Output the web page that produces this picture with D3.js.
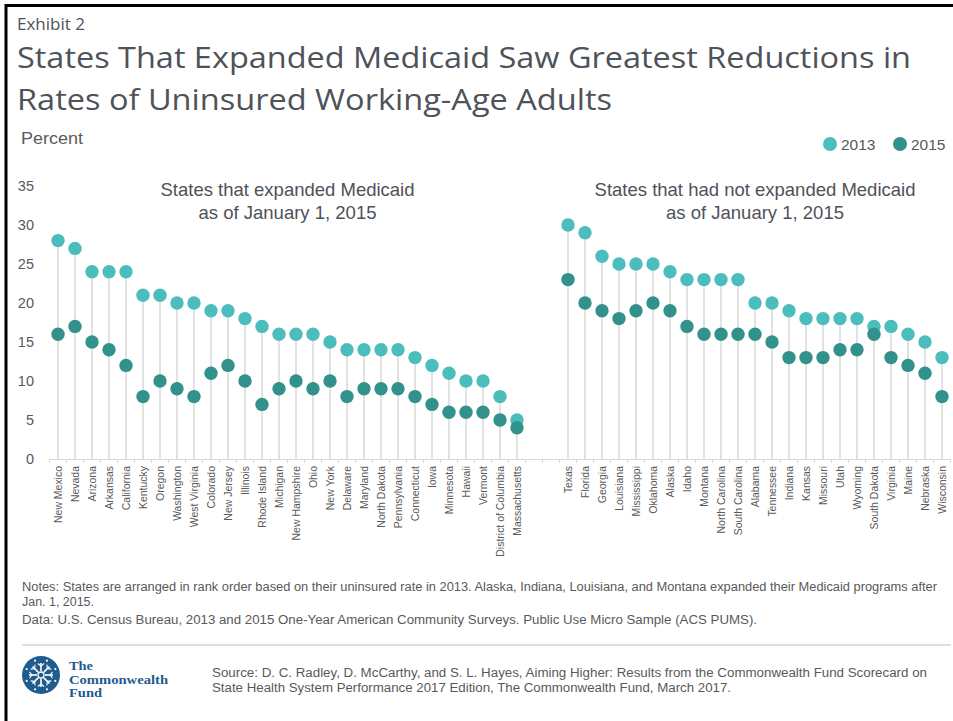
<!DOCTYPE html>
<html>
<head>
<meta charset="utf-8">
<script src="https://cdn.jsdelivr.net/npm/d3@7"></script>
<style>
  body { margin: 0; background: #fff; }
  svg { display: block; }
</style>
</head>
<body>
<div id="chart"></div>
<script>
"use strict";

// states that expanded Medicaid, ranked by 2013 uninsured rate
const expandedStates = ["New Mexico", "Nevada", "Arizona", "Arkansas", "California", "Kentucky", "Oregon",
    "Washington", "West Virginia", "Colorado", "New Jersey", "Illinois", "Rhode Island", "Michigan",
    "New Hampshire", "Ohio", "New York", "Delaware", "Maryland", "North Dakota", "Pennsylvania",
    "Connecticut", "Iowa", "Minnesota", "Hawaii", "Vermont", "District of Columbia", "Massachusetts"];
const expanded2013 = [28, 27, 24, 24, 24, 21, 21, 20, 20, 19, 19, 18, 17, 16, 16, 16, 15, 14, 14, 14, 14, 13, 12, 11, 10, 10, 8, 5];
const expanded2015 = [16, 17, 15, 14, 12, 8, 10, 9, 8, 11, 12, 10, 7, 9, 10, 9, 10, 8, 9, 9, 9, 8, 7, 6, 6, 6, 5, 4];

// states that had not expanded
const notExpandedStates = ["Texas", "Florida", "Georgia", "Louisiana", "Mississippi", "Oklahoma", "Alaska",
    "Idaho", "Montana", "North Carolina", "South Carolina", "Alabama", "Tennessee", "Indiana", "Kansas",
    "Missouri", "Utah", "Wyoming", "South Dakota", "Virginia", "Maine", "Nebraska", "Wisconsin"];
const notExpanded2013 = [30, 29, 26, 25, 25, 25, 24, 23, 23, 23, 23, 20, 20, 19, 18, 18, 18, 18, 17, 17, 16, 15, 13];
const notExpanded2015 = [23, 20, 19, 18, 19, 20, 19, 17, 16, 16, 16, 16, 15, 13, 13, 13, 14, 14, 16, 13, 12, 11, 8];

const yTicks = [0, 5, 10, 15, 20, 25, 30, 35];
const gapSlots = ["_gap1", "_gap2"]; // empty categories between the two groups
const years = ["2013", "2015"];

const msm = { width: 953, height: 721 };
const colors = { "2013": "#4bbdbc", "2015": "#33918c" };
const textGrey = "#595959";
const titleGrey = "#4e5259";

const svg = d3.select("#chart").append("svg")
    .attr("width", msm.width)
    .attr("height", msm.height);

// frame (left and top edges only are visible)
svg.append("path")
    .attr("d", "M6,721 V5.5 H953")
    .attr("fill", "none")
    .attr("stroke", "#000")
    .attr("stroke-width", 3);

// fit a text element to a measured width
function fit(sel, w) {
    sel.attr("textLength", w).attr("lengthAdjust", "spacingAndGlyphs");
}

// header
svg.append("text").attr("x", 17).attr("y", 30)
    .style("font-family", "'Open Sans', sans-serif").style("font-size", "17px")
    .attr("fill", titleGrey).text("Exhibit 2");

svg.append("text").attr("x", 17).attr("y", 68)
    .style("font-family", "'Open Sans', sans-serif").style("font-size", "30px")
    .attr("fill", titleGrey)
    .text("States That Expanded Medicaid Saw Greatest Reductions in")
    .call(fit, 894);

svg.append("text").attr("x", 17).attr("y", 110)
    .style("font-family", "'Open Sans', sans-serif").style("font-size", "30px")
    .attr("fill", titleGrey)
    .text("Rates of Uninsured Working-Age Adults")
    .call(fit, 595);

svg.append("text").attr("x", 21).attr("y", 144)
    .style("font-family", "'Liberation Sans', Arial, sans-serif").style("font-size", "16px")
    .attr("fill", textGrey).text("Percent")
    .call(fit, 62);

// legend
const legendX = [830, 900];
years.forEach((yr, i) => {
    svg.append("circle").attr("cx", legendX[i]).attr("cy", 144).attr("r", 7).attr("fill", colors[yr]);
    svg.append("text").attr("x", legendX[i] + 11).attr("y", 149.5)
        .style("font-family", "'Liberation Sans', Arial, sans-serif").style("font-size", "15.5px")
        .attr("fill", textGrey).text(yr);
});

// scales
const domain = expandedStates.concat(gapSlots, notExpandedStates);
const xScale = d3.scaleBand()
    .domain(domain)
    .range([49.5, 950.5])
    .padding(0);
const yScale = d3.scaleLinear()
    .domain([0, 35])
    .range([459, 186]);

// y axis labels only
const yAxis = d3.axisLeft(yScale).tickValues(yTicks).tickSize(0).tickPadding(0);
svg.append("g")
    .attr("transform", "translate(34,0)")
    .call(yAxis)
    .call(g => g.select(".domain").remove())
    .selectAll("text")
    .style("font-family", "'Liberation Sans', Arial, sans-serif")
    .style("font-size", "14.5px")
    .attr("fill", textGrey);

// category axis with rotated state names
const xAxis = d3.axisBottom(xScale).tickSize(0).tickFormat(d => d.startsWith("_") ? "" : d);
const xg = svg.append("g")
    .attr("transform", "translate(0," + yScale(0) + ")")
    .call(xAxis);
xg.select(".domain").attr("stroke", "#d9d9d9").attr("stroke-width", 1.2);
xg.selectAll("text")
    .attr("x", 0).attr("y", 0).attr("dy", "0.35em")
    .attr("transform", "translate(0,7) rotate(-90) scale(0.97,1)")
    .style("text-anchor", "end")
    .style("font-family", "'Liberation Sans', Arial, sans-serif")
    .style("font-size", "10.8px")
    .attr("fill", textGrey);

// tick marks between categories
const boundaries = domain.map(d => xScale(d)).concat([xScale.range()[1]]);
svg.append("g").selectAll("line")
    .data(boundaries)
    .enter().append("line")
    .attr("x1", d => d).attr("x2", d => d)
    .attr("y1", yScale(0)).attr("y2", yScale(0) + 4)
    .attr("stroke", "#d9d9d9");

// rows of data for the dots
const rows = expandedStates.map((s, i) => ({ state: s, v2013: expanded2013[i], v2015: expanded2015[i] }))
    .concat(notExpandedStates.map((s, i) => ({ state: s, v2013: notExpanded2013[i], v2015: notExpanded2015[i] })));
const cx = d => xScale(d.state) + xScale.bandwidth() / 2;

// stems
svg.append("g").selectAll("line")
    .data(rows)
    .enter().append("line")
    .attr("x1", cx).attr("x2", cx)
    .attr("y1", yScale(0))
    .attr("y2", d => yScale(Math.max(d.v2013, d.v2015)))
    .attr("stroke", "#d9d9d9")
    .attr("stroke-width", 1.5);

// dots, 2015 drawn on top
years.forEach(yr => {
    svg.append("g").selectAll("circle")
        .data(rows)
        .enter().append("circle")
        .attr("cx", cx)
        .attr("cy", d => yScale(d["v" + yr]))
        .attr("r", 6.7)
        .attr("fill", colors[yr]);
});

// panel titles
const panelTitles = [
    { lines: ["States that expanded Medicaid", "as of January 1, 2015"], states: expandedStates },
    { lines: ["States that had not expanded Medicaid", "as of January 1, 2015"], states: notExpandedStates }
];
panelTitles.forEach(p => {
    const first = xScale(p.states[0]);
    const last = xScale(p.states[p.states.length - 1]) + xScale.bandwidth();
    const mid = (first + last) / 2;
    p.lines.forEach((ln, i) => {
        svg.append("text")
            .attr("x", mid).attr("y", 196 + i * 22.5)
            .attr("text-anchor", "middle")
            .style("font-family", "'Liberation Sans', Arial, sans-serif")
            .style("font-size", "18.5px")
            .attr("fill", titleGrey)
            .text(ln);
    });
});

// notes and source
const footFont = "'Liberation Sans', Arial, sans-serif";
function footText(x, y, str, w) {
    svg.append("text").attr("x", x).attr("y", y)
        .style("font-family", footFont).style("font-size", "12.5px")
        .attr("fill", textGrey).text(str).call(fit, w);
}
footText(22, 591, "Notes: States are arranged in rank order based on their uninsured rate in 2013. Alaska, Indiana, Louisiana, and Montana expanded their Medicaid programs after", 915);
footText(22, 606, "Jan. 1, 2015.", 72);
footText(22, 624, "Data: U.S. Census Bureau, 2013 and 2015 One-Year American Community Surveys. Public Use Micro Sample (ACS PUMS).", 735);

svg.append("line")
    .attr("x1", 22).attr("x2", 951).attr("y1", 645).attr("y2", 645)
    .attr("stroke", "#bfbfbf").attr("stroke-width", 1.2);

footText(212, 677, "Source: D. C. Radley, D. McCarthy, and S. L. Hayes, Aiming Higher: Results from the Commonwealth Fund Scorecard on", 715);
footText(212, 692, "State Health System Performance 2017 Edition, The Commonwealth Fund, March 2017.", 519);

// logo
const logo = svg.append("g").attr("transform", "translate(41,675)");
logo.append("circle").attr("r", 19).attr("fill", "#1f5b8c");
d3.range(8).forEach(k => {
    const a = k * Math.PI / 4;
    logo.append("line")
        .attr("x1", Math.cos(a) * 4).attr("y1", Math.sin(a) * 4)
        .attr("x2", Math.cos(a) * 12).attr("y2", Math.sin(a) * 12)
        .attr("stroke", "#fff").attr("stroke-width", 1.6);
    [-1, 1].forEach(sg => {
        logo.append("line")
            .attr("x1", Math.cos(a) * 9).attr("y1", Math.sin(a) * 9)
            .attr("x2", Math.cos(a) * 9 + Math.cos(a + sg * 0.9) * 4)
            .attr("y2", Math.sin(a) * 9 + Math.sin(a + sg * 0.9) * 4)
            .attr("stroke", "#fff").attr("stroke-width", 1.1);
    });
    const b = a + Math.PI / 8;
    logo.append("circle").attr("cx", Math.cos(b) * 15.5).attr("cy", Math.sin(b) * 15.5)
        .attr("r", 1.1).attr("fill", "#fff");
});
logo.append("circle").attr("r", 3).attr("fill", "none").attr("stroke", "#fff").attr("stroke-width", 1.3);

// brand name, widths fitted to the reference
const brand = ["The", "Commonwealth", "Fund"];
const brandWidths = [24, 99, 33];
brand.forEach((w, i) => {
    svg.append("text")
        .attr("x", 69).attr("y", 670 + i * 13.5)
        .style("font-family", "'Liberation Serif', 'DejaVu Serif', serif")
        .style("font-size", "12px").style("font-weight", "bold")
        .attr("fill", "#1f5b8c")
        .text(w)
        .call(fit, brandWidths[i]);
});
</script>
</body>
</html>
